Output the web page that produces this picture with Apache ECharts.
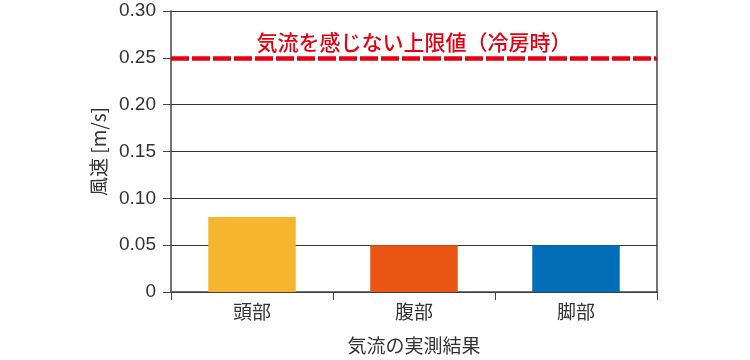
<!DOCTYPE html>
<html>
<head>
<meta charset="utf-8">
<script src="https://cdn.jsdelivr.net/npm/echarts@6/dist/echarts.min.js"></script>
<style>html,body{margin:0;padding:0;background:#fff;}#c{width:750px;height:360px;}</style>
</head>
<body>
<div id="c"></div>
<script>
const categories = ['頭部', '腹部', '脚部'];
const values = [0.08, 0.05, 0.05];
const barColors = ['#f5b52e', '#e85514', '#036eb8'];
const limitValue = 0.25;
const limitLabel = '気流を感じない上限値（冷房時）';
const yName = '風速 [m/s]';
const xName = '気流の実測結果';

const font = '"Noto Sans CJK JP", "Noto Sans", sans-serif';
const numFont = '"Liberation Sans", Arial, sans-serif';
const chart = echarts.init(document.getElementById('c'));
chart.setOption({
  animation: false,
  grid: { left: 171, right: 93, top: 11, bottom: 67 },
  xAxis: {
    type: 'category',
    data: categories,
    boundaryGap: true,
    name: xName,
    nameLocation: 'middle',
    nameGap: 44,
    nameTextStyle: { fontFamily: font, fontSize: 19, color: '#333' },
    axisLine: { lineStyle: { color: '#444', width: 1.5 } },
    axisTick: { show: true, length: 8, lineStyle: { color: '#444' } },
    axisLabel: { fontFamily: font, fontSize: 19, color: '#333', margin: 10 }
  },
  yAxis: [{
    type: 'value',
    min: 0, max: 0.3, interval: 0.05,
    name: yName,
    nameLocation: 'middle',
    nameGap: 62,
    nameTextStyle: { fontFamily: font, fontSize: 19, color: '#333' },
    axisLine: { show: true, lineStyle: { color: '#444', width: 1.5 } },
    axisTick: { show: true, length: 8, lineStyle: { color: '#444' } },
    axisLabel: { fontFamily: numFont, fontSize: 19, color: '#333', margin: 15,
      formatter: v => v === 0 ? '0' : v.toFixed(2) },
    splitLine: { show: true, lineStyle: { color: '#333', width: 1 } }
  }, {
    type: 'value',
    min: 0, max: 0.3, interval: 0.05,
    position: 'right',
    axisLine: { show: true, lineStyle: { color: '#444', width: 1.5 } },
    axisTick: { show: false },
    axisLabel: { show: false },
    splitLine: { show: false }
  }],
  series: [{
    type: 'bar',
    barWidth: '54%',
    data: values.map((v, i) => ({ value: v, itemStyle: { color: barColors[i] } })),
    markLine: {
      silent: true,
      symbol: 'none',
      data: [
        { yAxis: limitValue, lineStyle: { color: '#fff', type: 'solid', width: 4 }, label: { show: false } },
        { yAxis: limitValue, lineStyle: { color: '#e60012', type: [18, 3], width: 4.5 },
          label: {
            show: true, position: 'insideMiddleTop', formatter: limitLabel,
            fontFamily: font, fontSize: 21, fontWeight: 500, color: '#e60012', distance: 5
          } }
      ]
    }
  }]
});
</script>
</body>
</html>
